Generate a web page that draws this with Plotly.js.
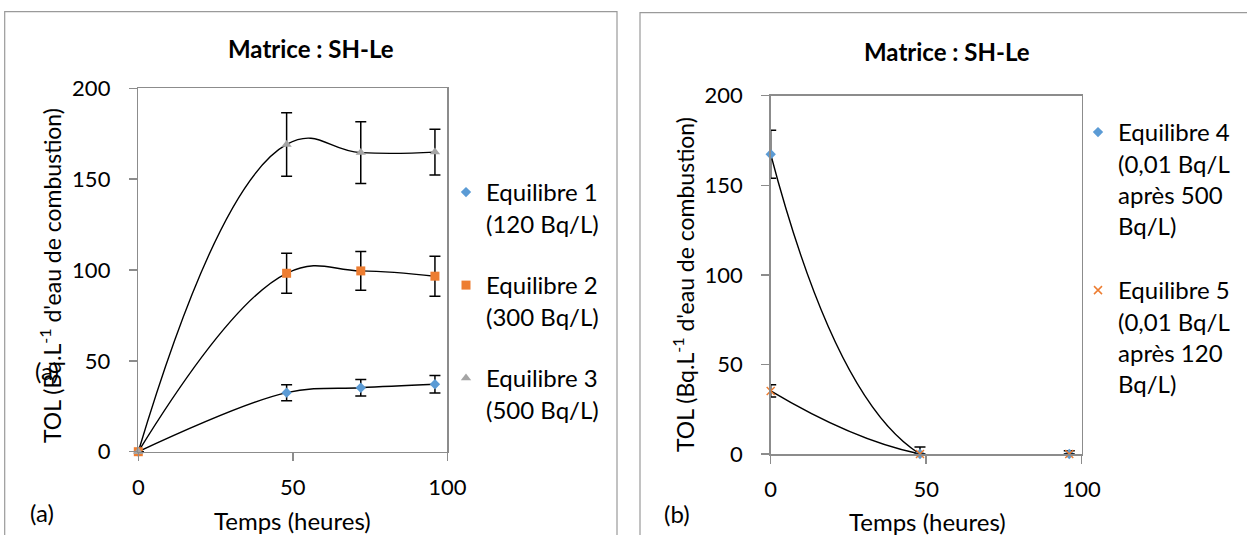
<!DOCTYPE html>
<html>
<head>
<meta charset="utf-8">
<script src="https://cdn.plot.ly/plotly-3.0.1.min.js"></script>
<style>html,body{margin:0;padding:0;background:#fff;}#chart{width:1247px;height:535px;}</style>
</head>
<body>
<div id="chart"></div>
<script>
// ---- Data ----
const timeA = [0, 48, 72, 96];
const eq1 = [0, 32.5, 35.2, 37.1];
const eq1Err = [null, 4.4, 4.6, 4.8];
const eq2 = [0, 98.2, 99.5, 96.6];
const eq2Err = [null, 11, 10.7, 11];
const eq3 = [0, 169.1, 164.6, 164.9];
const eq3Err = [null, 17.5, 17, 12.6];

const timeB = [0, 48, 96];
const eq4 = [167.3, 0, 0];
const eq4Err = [13.4, 3.9, 1.8];
const eq5 = [35.2, 0, 0];
const eq5Err = [3.4, null, null];

const namesA = ["Equilibre 1<br>(120 Bq/L)", "Equilibre 2<br>(300 Bq/L)", "Equilibre 3<br>(500 Bq/L)"];
const namesB = ["Equilibre 4<br>(0,01 Bq/L<br>après 500<br>Bq/L)", "Equilibre 5<br>(0,01 Bq/L<br>après 120<br>Bq/L)"];
const titleText = "Matrice : SH-Le";
const yTitle = "TOL (Bq.L<sup>-1</sup> d'eau de combustion)";
const xTitle = "Temps (heures)";
const tickVals = [0, 50, 100];
const yTickVals = [0, 50, 100, 150, 200];

// ---- Layout helpers ----
const W = 1247, H = 535;
const px = v => v / W;
const py = v => 1 - v / H;
const FONT = "Lato, 'Open Sans', sans-serif";
const AX = "#8c8c8c";

function errBar(arr) {
  return {type: "data", array: arr, symmetric: true, visible: true, color: "#000", thickness: 1.5, width: 5.5};
}
function lineTrace(x, y, xa, ya, sm) {
  return {x: x, y: y, xaxis: xa, yaxis: ya, mode: "lines", type: "scatter",
          line: {color: "#000", width: 1.4, shape: "spline", smoothing: sm}, showlegend: false, hoverinfo: "skip"};
}
function markTrace(x, y, err, xa, ya, name, marker, legend) {
  return {x: x, y: y, xaxis: xa, yaxis: ya, mode: "markers", type: "scatter", name: name,
          marker: marker, error_y: errBar(err), cliponaxis: false, legend: legend};
}

const data = [
  lineTrace(timeA, eq1, "x", "y", 1),
  lineTrace(timeA, eq2, "x", "y", 1.2),
  lineTrace(timeA, eq3, "x", "y", 1.3),
  markTrace(timeA, eq1, eq1Err, "x", "y", namesA[0], {symbol: "diamond", size: 8, color: "#5B9BD5"}, "legend"),
  markTrace(timeA, eq2, eq2Err, "x", "y", namesA[1], {symbol: "square", size: 9, color: "#ED7D31"}, "legend2"),
  markTrace(timeA, eq3, eq3Err, "x", "y", namesA[2], {symbol: "triangle-up", size: 9, color: "#A5A5A5"}, "legend3"),
  lineTrace(timeB, eq4, "x2", "y2", 1.3),
  lineTrace(timeB, eq5, "x2", "y2", 1.3),
  markTrace(timeB, eq4, eq4Err, "x2", "y2", namesB[0], {symbol: "diamond", size: 8, color: "#5B9BD5"}, "legend4"),
  markTrace(timeB, eq5, eq5Err, "x2", "y2", namesB[1], {symbol: "x-thin-open", size: 8, color: "#ED7D31", line: {color: "#ED7D31", width: 1.5}}, "legend5")
];

function xAxis(domain, anchor) {
  return {domain: domain, anchor: anchor, range: [0, 100], tickvals: tickVals, ticks: "outside", ticklen: 8,
          tickcolor: AX, tickwidth: 1.5, showline: true, linecolor: AX, linewidth: 1.5, mirror: true,
          showgrid: false, zeroline: false, tickfont: {size: 22, color: "#000", family: FONT}, ticklabelstandoff: 7, fixedrange: true};
}
function yAxis(domain, anchor) {
  return {domain: domain, anchor: anchor, range: [0, 200], tickvals: yTickVals, ticks: "outside", ticklen: 8,
          tickcolor: AX, tickwidth: 1.5, showline: true, linecolor: AX, linewidth: 1.5, mirror: true,
          showgrid: false, zeroline: false, tickfont: {size: 22, color: "#000", family: FONT}, ticklabelstandoff: 14, fixedrange: true};
}
function legendAt(x, y) {
  return {x: px(x), y: py(y), xanchor: "left", yanchor: "top", xref: "paper", yref: "paper",
          bgcolor: "rgba(0,0,0,0)", borderwidth: 0, valign: "top", font: {size: 24, color: "#000", family: FONT}};
}
function ann(text, x, y, opts) {
  return Object.assign({text: text, x: px(x), y: py(y), xref: "paper", yref: "paper", showarrow: false,
          xanchor: "center", yanchor: "middle", font: {size: 24, color: "#000", family: FONT}}, opts || {});
}

const layout = {
  width: W, height: H, margin: {l: 0, r: 0, t: 0, b: 0}, paper_bgcolor: "#fff", plot_bgcolor: "#fff",
  showlegend: true,
  xaxis: xAxis([px(138.3), px(447.3)], "y"),
  yaxis: yAxis([1 - 451.7 / H, 1 - 88.3 / H], "x"),
  xaxis2: xAxis([px(770.7), px(1081.7)], "y2"),
  yaxis2: yAxis([1 - 454 / H, 1 - 95.7 / H], "x2"),
  legend: legendAt(446, 170),
  legend2: legendAt(446, 263),
  legend3: legendAt(446, 356),
  legend4: legendAt(1078, 110),
  legend5: legendAt(1078, 268),
  shapes: [
    {type: "rect", xref: "paper", yref: "paper", x0: px(4.7), x1: px(617), y0: -0.05, y1: py(11.7), line: {color: "#9a9a9a", width: 1.2}, layer: "below"},
    {type: "rect", xref: "paper", yref: "paper", x0: px(640), x1: 1.02, y0: -0.05, y1: py(12.7), line: {color: "#9a9a9a", width: 1.2}, layer: "below"}
  ],
  annotations: [
    ann("<b>" + titleText + "</b>", 310.5, 49),
    ann("<b>" + titleText + "</b>", 946.5, 51),
    ann(yTitle, 50, 276, {textangle: -90, font: {size: 23, color: "#000", family: FONT}}),
    ann(yTitle, 683, 284, {textangle: -90, font: {size: 23, color: "#000", family: FONT}}),
    ann(xTitle, 292, 520),
    ann(xTitle, 927, 521),
    ann("(a)", 46.5, 370),
    ann("(a)", 41.5, 512),
    ann("(b)", 676.5, 513)
  ]
};

Plotly.newPlot("chart", data, layout, {staticPlot: true, displayModeBar: false});
</script>
</body>
</html>
